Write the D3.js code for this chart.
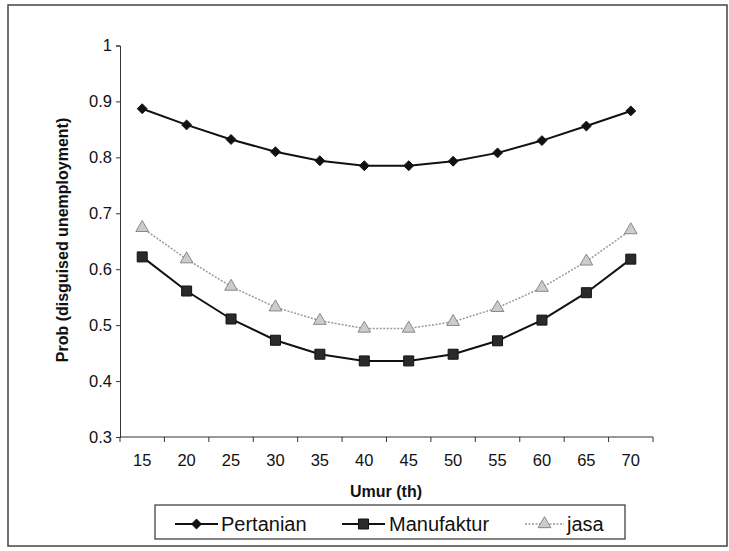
<!DOCTYPE html>
<html lang="id">
<head>
<meta charset="UTF-8">
<title>Prob (disguised unemployment)</title>
<script src="https://d3js.org/d3.v7.min.js"></script>
<style>
  body { margin: 0; background: #fff; }
  text { font-family: "Liberation Sans", Arial, sans-serif; fill: #111; }
  .axis path, .axis line { stroke: #333; }
</style>
</head>
<body>
<svg id="chart" width="729" height="551"></svg>
<script>
const ages = [15, 20, 25, 30, 35, 40, 45, 50, 55, 60, 65, 70];
const pertanian = [0.887, 0.858, 0.832, 0.810, 0.794, 0.785, 0.785, 0.793, 0.808, 0.830, 0.856, 0.883];
const manufaktur = [0.622, 0.561, 0.511, 0.473, 0.448, 0.436, 0.436, 0.448, 0.472, 0.509, 0.558, 0.618];
const jasa = [0.674, 0.618, 0.569, 0.532, 0.508, 0.494, 0.494, 0.506, 0.531, 0.567, 0.614, 0.670];
const yTicks = [0.3, 0.4, 0.5, 0.6, 0.7, 0.8, 0.9, 1];

const series = [
  { name: "Pertanian", values: pertanian, stroke: "#111", width: 2, dash: null, marker: "diamond" },
  { name: "Manufaktur", values: manufaktur, stroke: "#111", width: 2, dash: null, marker: "square" },
  { name: "jasa", values: jasa, stroke: "#999", width: 1.5, dash: "2,1.5", marker: "triangle" }
];

const svg = d3.select("#chart");

// outer frame
svg.append("path")
  .attr("d", "M8,546 L8,5 L727,5 L727,546 Z")
  .attr("fill", "none").attr("stroke", "#444").attr("stroke-width", 1.5);

const x = d3.scaleBand().domain(ages).range([120, 653]);
const y = d3.scaleLinear().domain([0.3, 1]).range([437, 45.5]);

// y axis
const yAxis = svg.append("g").attr("class", "axis")
  .attr("transform", "translate(120,0)")
  .call(d3.axisLeft(y).tickValues(yTicks).tickFormat(d => d === 1 ? "1" : d3.format(".1f")(d)).tickSize(4).tickPadding(4));
yAxis.selectAll("text").style("font-size", "16.5px").style("fill", "#111");

// x axis: ticks between categories
const xAxis = svg.append("g").attr("class", "axis")
  .attr("transform", "translate(0,437)");
xAxis.append("line").attr("x1", 120).attr("x2", 653).attr("y1", 0).attr("y2", 0).attr("stroke", "#333");
xAxis.selectAll(".tk").data(ages.concat(["end"])).enter().append("line")
  .attr("x1", (d, i) => i < ages.length ? x(d) : x.range()[1])
  .attr("x2", (d, i) => i < ages.length ? x(d) : x.range()[1])
  .attr("y1", 0).attr("y2", 5).attr("stroke", "#333");
xAxis.selectAll(".lbl").data(ages).enter().append("text")
  .attr("x", d => x(d) + x.bandwidth() / 2)
  .attr("y", 29)
  .attr("text-anchor", "middle")
  .style("font-size", "16.5px")
  .text(d => d);

// axis titles
svg.append("text").attr("x", 386).attr("y", 497).attr("text-anchor", "middle")
  .style("font-size", "16px").style("font-weight", "bold").text("Umur (th)");
svg.append("text").attr("transform", "translate(68,240) rotate(-90)").attr("text-anchor", "middle")
  .style("font-size", "16px").style("font-weight", "bold").text("Prob (disguised unemployment)");

const symbols = {
  diamond: { type: d3.symbolDiamond2, size: 62, fill: "#111", stroke: "#111" },
  square: { type: d3.symbolSquare, size: 100, fill: "#2a2a2a", stroke: "#111" },
  triangle: { type: d3.symbolTriangle, size: 70, fill: "#ccc", stroke: "#888" }
};

function drawMarker(g, kind, cx, cy) {
  const s = symbols[kind];
  g.append("path")
    .attr("d", d3.symbol().type(s.type).size(s.size)())
    .attr("transform", `translate(${cx},${cy})`)
    .attr("fill", s.fill).attr("stroke", s.stroke).attr("stroke-width", 1);
}

const line = d3.line()
  .x((d, i) => x(ages[i]) + x.bandwidth() / 2)
  .y(d => y(d));

series.forEach(s => {
  const g = svg.append("g");
  g.append("path").datum(s.values)
    .attr("d", line)
    .attr("fill", "none")
    .attr("stroke", s.stroke)
    .attr("stroke-width", s.width)
    .attr("stroke-dasharray", s.dash);
  s.values.forEach((v, i) => drawMarker(g, s.marker, x(ages[i]) + x.bandwidth() / 2, y(v)));
});

// legend
const legend = svg.append("g");
legend.append("rect").attr("x", 155).attr("y", 505).attr("width", 470).attr("height", 34)
  .attr("fill", "#fff").attr("stroke", "#333").attr("stroke-width", 1.2);
const legendPos = [
  { x1: 175, x2: 218, tx: 221 },
  { x1: 342, x2: 385, tx: 389 },
  { x1: 525, x2: 564, tx: 567 }
];
series.forEach((s, i) => {
  const p = legendPos[i];
  const ly = 524;
  legend.append("line").attr("x1", p.x1).attr("x2", p.x2).attr("y1", ly).attr("y2", ly)
    .attr("stroke", s.stroke).attr("stroke-width", s.width).attr("stroke-dasharray", s.dash);
  drawMarker(legend, s.marker, (p.x1 + p.x2) / 2, ly);
  legend.append("text").attr("x", p.tx).attr("y", ly + 7)
    .style("font-size", "20px").text(s.name);
});
</script>
</body>
</html>
